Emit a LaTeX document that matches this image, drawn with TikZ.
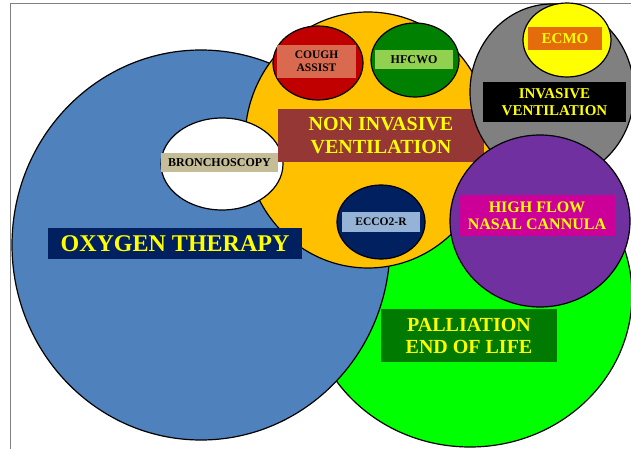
\documentclass[tikz,border=0pt]{standalone}
\usepackage{fontspec}
\setmainfont{Liberation Serif}
\usetikzlibrary{shapes.geometric}

\definecolor{oxyblue}{HTML}{4F81BD}
\definecolor{palgreen}{HTML}{00FF00}
\definecolor{nivyellow}{HTML}{FFC000}
\definecolor{coughred}{HTML}{C00000}
\definecolor{hfgreen}{HTML}{008000}
\definecolor{navy}{HTML}{002060}
\definecolor{invgray}{HTML}{808080}
\definecolor{ecmoyellow}{HTML}{FFFF00}
\definecolor{hfpurple}{HTML}{7030A0}
\definecolor{nivred}{HTML}{953735}
\definecolor{coughbox}{HTML}{D9694F}
\definecolor{hfbox}{HTML}{92D050}
\definecolor{bronchbox}{HTML}{C4BD97}
\definecolor{eccobox}{HTML}{95B3D7}
\definecolor{ecmobox}{HTML}{E46C0A}
\definecolor{hfncbox}{HTML}{CC0099}
\definecolor{palbox}{HTML}{007A00}
\definecolor{txtyellow}{HTML}{FFFF00}

\tikzset{
  blob/.style={ellipse, draw=black, line width=1.2pt, inner sep=0pt},
  tag/.style={inner sep=0pt, align=center, font=\bfseries},
}

\begin{document}
\begin{tikzpicture}[x=1pt,y=-1pt]
    \useasboundingbox (0,0) rectangle (631,449);
    \clip (0,0) rectangle (631,449);
    \draw[invgray, line width=1pt] (10,449) -- (10,4) -- (631,4);

    % big circles
    \node[blob, fill=palgreen, minimum width=324pt, minimum height=304pt] (pal) at (470,295) {};
    \node[blob, fill=oxyblue, minimum width=378pt, minimum height=390pt] (oxy) at (201,245) {};
    \node[blob, fill=nivyellow, minimum width=246pt, minimum height=256pt] (niv) at (368,140) {};

    % small ones on the NIV circle
    \node[blob, fill=white, minimum width=122pt, minimum height=92pt] (bronch) at (222,164) {};
    \node[blob, fill=coughred, minimum width=90pt, minimum height=74pt] (cough) at (318,63) {};
    \node[blob, fill=hfgreen, minimum width=88pt, minimum height=74pt] (hfcwo) at (415,60) {};
    \node[blob, fill=navy, minimum width=88pt, minimum height=74pt] (ecco) at (381,222) {};

    \node[tag, fill=nivred, text=txtyellow, minimum width=206pt, minimum height=53pt,
          font=\bfseries\fontsize{20}{23}\selectfont] (nivlbl) at (381,135.5) {NON INVASIVE\\VENTILATION};

    \node[blob, fill=invgray, minimum width=164pt, minimum height=176pt] (inv) at (552,92) {};
    \node[blob, fill=ecmoyellow, minimum width=88pt, minimum height=74pt] (ecmo) at (567,40) {};
    \node[blob, fill=hfpurple, minimum width=180pt, minimum height=172pt] (hfnc) at (540,221) {};

    % labels
    \node[tag, fill=navy, text=txtyellow, minimum width=254pt, minimum height=31pt,
          font=\bfseries\fontsize{24}{26}\selectfont] (oxylbl) at (175,243.5) {OXYGEN THERAPY};
    \node[tag, fill=bronchbox, minimum width=117pt, minimum height=19pt,
          font=\bfseries\fontsize{12}{13}\selectfont] (bronchlbl) at (219.5,162.5) {BRONCHOSCOPY};
    \node[tag, fill=coughbox, minimum width=79pt, minimum height=33pt,
          font=\bfseries\fontsize{11.5}{13}\selectfont] (coughlbl) at (316.5,61.5) {COUGH\\ASSIST};
    \node[tag, fill=hfbox, minimum width=78pt, minimum height=19pt,
          font=\bfseries\fontsize{12}{13}\selectfont] (hfcwolbl) at (414,59.5) {HFCWO};
    \node[tag, fill=eccobox, minimum width=78pt, minimum height=20pt,
          font=\bfseries\fontsize{11.5}{13}\selectfont] (eccolbl) at (381,222) {ECCO2-R};
    \node[tag, fill=ecmobox, text=txtyellow, minimum width=74pt, minimum height=23pt,
          font=\bfseries\fontsize{15}{17}\selectfont] (ecmolbl) at (565,38.5) {ECMO};
    \node[tag, fill=black, text=txtyellow, minimum width=143pt, minimum height=40pt,
          font=\bfseries\fontsize{15}{17}\selectfont] (invlbl) at (554.5,102) {INVASIVE\\VENTILATION};
    \node[tag, fill=hfncbox, text=txtyellow, minimum width=156pt, minimum height=41pt,
          font=\bfseries\fontsize{16}{17}\selectfont] (hfnclbl) at (537,215.5) {HIGH FLOW\\NASAL CANNULA};
    \node[tag, fill=palbox, text=txtyellow, minimum width=176pt, minimum height=53pt,
          font=\bfseries\fontsize{20}{22}\selectfont] (pallbl) at (469,335.5) {PALLIATION\\END OF LIFE};
\end{tikzpicture}
\end{document}
